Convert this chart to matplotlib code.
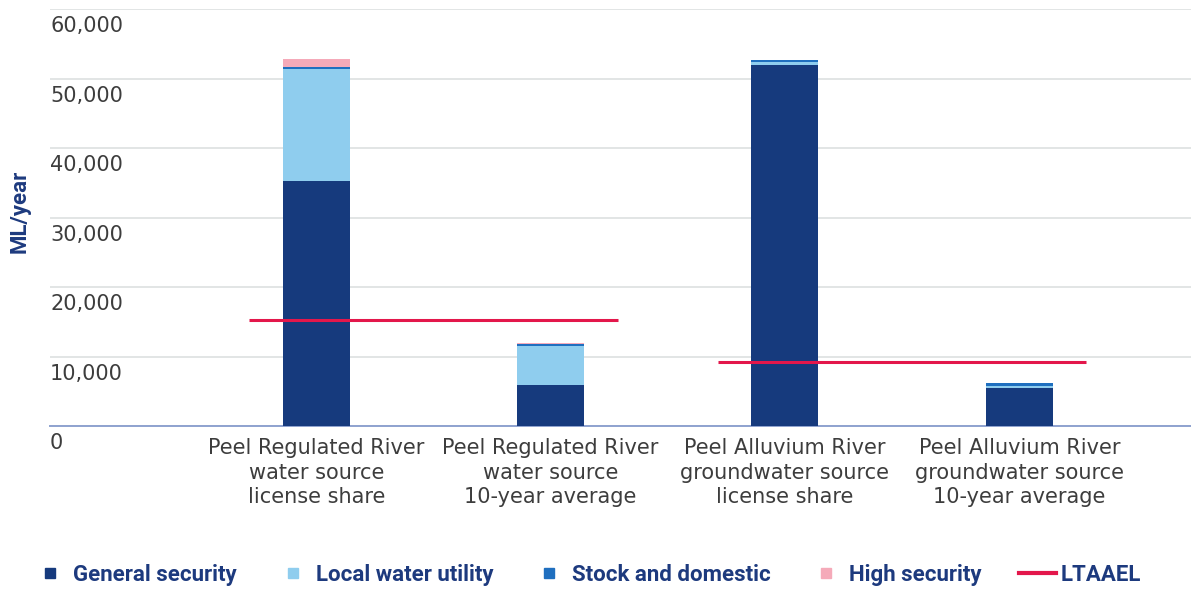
import matplotlib
matplotlib.use("Agg")
import matplotlib.pyplot as plt
from matplotlib.lines import Line2D
import matplotlib.transforms as mtransforms

plt.rcParams['font.family'] = ['DejaVu Sans']

categories = [
    "Peel Regulated River\nwater source\nlicense share",
    "Peel Regulated River\nwater source\n10-year average",
    "Peel Alluvium River\ngroundwater source\nlicense share",
    "Peel Alluvium River\ngroundwater source\n10-year average",
]
general_security = [35200, 5960, 51900, 5420]
local_water_utility = [16100, 5510, 450, 350]
stock_and_domestic = [380, 290, 350, 370]
high_security = [1060, 180, 0, 0]

# LTAAEL per water source: (first bar, last bar, limit)
ltaael = [(0, 1, 15200), (2, 3, 9170)]

yticks = [0, 10000, 20000, 30000, 40000, 50000, 60000]

colors = {
    "General security": "#163a7d",
    "Local water utility": "#8fcdee",
    "Stock and domestic": "#1f6fbf",
    "High security": "#f5aab9",
}
red = "#e3174b"
navy = "#1d3a7e"
text_grey = "#3d3d3d"

fig = plt.figure(figsize=(11.91, 5.89), dpi=100)
ax = fig.add_axes([50 / 1191, 1 - 426 / 589, 1 - 50 / 1191, (426 - 9) / 589])

x = list(range(len(categories)))
width = 0.286
bottom = [0] * len(x)
for name, vals in [("General security", general_security),
                   ("Local water utility", local_water_utility),
                   ("Stock and domestic", stock_and_domestic),
                   ("High security", high_security)]:
    ax.bar(x, vals, width, bottom=bottom, color=colors[name], zorder=3)
    bottom = [b + v for b, v in zip(bottom, vals)]

for i0, i1, lim in ltaael:
    ax.plot([i0 - width, i1 + width], [lim, lim], color=red, lw=2.2, zorder=4,
            solid_capstyle='butt')

ax.set_xlim(-1.137, 3.733)
ax.set_ylim(0, 60000)

ax.set_yticks(yticks)
ax.yaxis.grid(True, color="#dfe3e3", lw=1.3, zorder=0)
ax.set_axisbelow(True)
ax.tick_params(axis='y', length=0, labelleft=False)

# y tick labels sit inside the plot, just under each gridline
trans = mtransforms.blended_transform_factory(ax.transAxes, ax.transData)
for v in yticks:
    ax.annotate(f"{v:,}", xy=(0, v), xycoords=trans, xytext=(0, -12.3),
                textcoords='offset points', ha='left', va='center',
                fontsize=15, color=text_grey, annotation_clip=False)

ax.set_xticks(x)
ax.set_xticklabels(categories, fontsize=15, color=text_grey, linespacing=1.3)
ax.tick_params(axis='x', length=0, pad=8.5)

for s in ['top', 'right', 'left']:
    ax.spines[s].set_visible(False)
ax.spines['bottom'].set_color("#8ea2cf")
ax.spines['bottom'].set_linewidth(1.4)

fig.text(20 / 1191, 1 - 211 / 589, "ML/year", rotation=90, ha='center', va='center',
         fontsize=16, fontweight='bold', color=navy, family='Roboto')

handles = [Line2D([], [], marker='s', linestyle='none', markersize=7,
                  color=c, label=n) for n, c in colors.items()]
handles.append(Line2D([], [], color=red, lw=3, label="LTAAEL"))
fig.legend(handles=handles, loc='center left', bbox_to_anchor=(32 / 1191, 1 - 575 / 589),
           ncol=5, frameon=False, handlelength=1.66, handletextpad=0.2,
           columnspacing=1.68, borderpad=0, borderaxespad=0,
           labelcolor=navy, prop={'family': 'Roboto', 'weight': 'bold', 'size': 16})

fig.savefig("out.png", dpi=100)
